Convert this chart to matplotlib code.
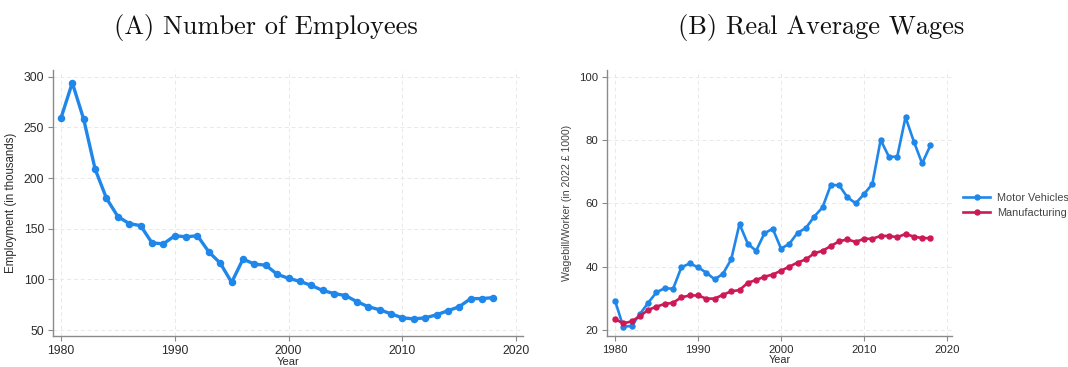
import matplotlib
matplotlib.use("Agg")
import matplotlib.pyplot as plt

years = list(range(1980, 2019))

employment = [259, 294, 258, 209, 180, 162, 155, 153, 136, 135,
              143, 142, 143, 127, 116, 97, 120, 115, 114, 105,
              101, 98, 94, 89, 86, 84, 78, 73, 70, 66,
              62, 61, 62, 65, 69, 73, 81, 81, 82]

motor_vehicles = [29.3, 21.0, 21.3, 25.0, 28.6, 31.9, 33.2, 33.0, 39.8, 41.0,
                  39.8, 38.1, 36.0, 37.7, 42.3, 53.5, 47.2, 45.0, 50.5, 52.0,
                  45.7, 47.2, 50.7, 52.2, 55.8, 58.7, 65.8, 65.7, 61.9, 60.0,
                  62.9, 66.1, 80.0, 74.7, 74.7, 87.2, 79.5, 72.6, 78.3]

manufacturing = [23.4, 22.1, 22.7, 24.4, 26.3, 27.4, 28.2, 28.6, 30.3, 30.9,
                 30.9, 29.9, 29.9, 31.1, 32.2, 32.6, 34.9, 35.8, 36.8, 37.5,
                 38.7, 40.0, 41.3, 42.3, 44.2, 45.0, 46.5, 48.0, 48.6, 47.8,
                 48.8, 48.8, 49.7, 49.7, 49.3, 50.3, 49.5, 49.0, 49.0]

x_ticks = [1980, 1990, 2000, 2010, 2020]
emp_ticks = [50, 100, 150, 200, 250, 300]
wage_ticks = [20, 40, 60, 80, 100]

BLUE = "#1f87ea"
CRIMSON = "#cc1a55"
SPINE = "#8a8a8a"
TEXT = "#2b2b2b"

plt.rcParams["font.family"] = ["Liberation Sans", "DejaVu Sans"]

fig = plt.figure(figsize=(10.68, 3.67), dpi=100)
fig.patch.set_facecolor("white")


def style_axes(ax, fs):
    for side in ("top", "right"):
        ax.spines[side].set_visible(False)
    for side in ("left", "bottom"):
        ax.spines[side].set_color(SPINE)
        ax.spines[side].set_linewidth(1.0)
    ax.tick_params(axis="both", direction="out", length=3.5, width=0.8,
                   color=SPINE, labelcolor=TEXT, labelsize=fs, pad=3)
    ax.tick_params(axis="x", pad=3)
    ax.grid(True, color="#e9e9e9", linestyle=(0, (4, 3)), linewidth=0.7)
    ax.set_axisbelow(True)


# Panel A: employment
ax1 = fig.add_axes([0.0499, 0.0845, 0.4398, 0.7248])
ax1.plot(years, employment, color=BLUE, lw=2.4, marker="o", ms=4.4,
         solid_joinstyle="round")
ax1.set_xlim(1979.33, 2020.6)
ax1.set_ylim(44.1, 306.6)
ax1.set_xticks(x_ticks)
ax1.set_yticks(emp_ticks)
style_axes(ax1, 8.8)
ax1.set_ylabel("Employment (in thousands)", fontsize=8.3, color=TEXT, labelpad=5)
ax1.set_xlabel("Year", fontsize=8, color=TEXT, labelpad=0)

# Panel B: real average wages
ax2 = fig.add_axes([0.5686, 0.0845, 0.3228, 0.7248])
ax2.plot(years, motor_vehicles, color=BLUE, lw=1.9, marker="o", ms=3.6,
         label="Motor Vehicles")
ax2.plot(years, manufacturing, color=CRIMSON, lw=1.9, marker="o", ms=3.6,
         label="Manufacturing")
ax2.set_xlim(1979.07, 2020.6)
ax2.set_ylim(18.1, 102.1)
ax2.set_xticks(x_ticks)
ax2.set_yticks(wage_ticks)
style_axes(ax2, 8.2)
ax2.set_ylabel("Wagebill/Worker (in 2022 \u00a3 1000)", fontsize=7.6,
               color="#444444", labelpad=5)
ax2.set_xlabel("Year", fontsize=7.8, color=TEXT, labelpad=0)
ax2.legend(loc="center left", bbox_to_anchor=(1.01, 0.49), frameon=False,
           fontsize=7.8, handlelength=2.5, handletextpad=0.6, labelspacing=0.45,
           borderaxespad=0.3, labelcolor="#444444")

# Panel titles
fig.text(0.249, 0.925, "(A) Number of Employees", family="cmr10",
         fontsize=19, ha="center", va="center", color="#111111")
fig.text(0.769, 0.925, "(B) Real Average Wages", family="cmr10",
         fontsize=19, ha="center", va="center", color="#111111")

fig.savefig("out.png", dpi=100, facecolor="white")
